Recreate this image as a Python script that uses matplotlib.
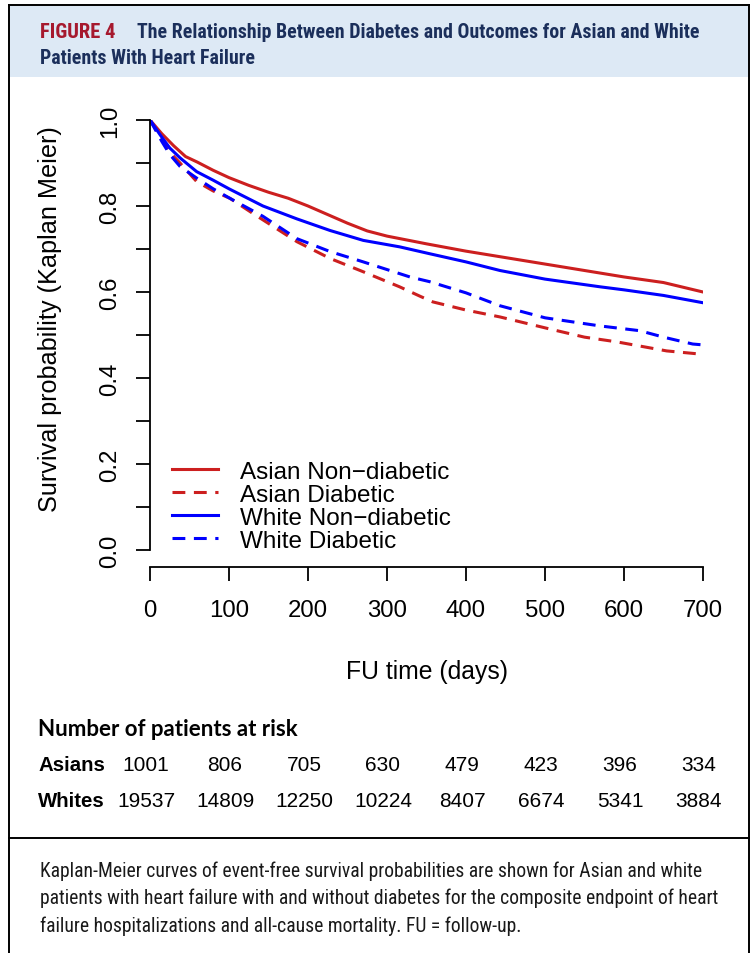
import matplotlib
matplotlib.use("Agg")
import matplotlib.pyplot as plt
from matplotlib import font_manager
from matplotlib.lines import Line2D
from matplotlib.patches import Rectangle
import matplotlib.transforms as mtransforms

# ---------------- data ----------------
days_asian_nd = [0, 15, 30, 45, 60, 80, 100, 125, 150, 175, 200, 225, 250, 275, 300, 350, 400, 450, 500, 550, 600, 650, 700]
surv_asian_nd = [1.0, 0.968, 0.940, 0.915, 0.902, 0.883, 0.866, 0.848, 0.832, 0.818, 0.800, 0.780, 0.760, 0.742, 0.730,
                 0.712, 0.695, 0.680, 0.665, 0.650, 0.635, 0.622, 0.600]

days_asian_d = [0, 15, 25, 38, 59, 80, 101, 130, 186, 228, 270, 316, 342, 358, 400, 443, 506, 550, 591, 654, 700]
surv_asian_d = [1.0, 0.955, 0.925, 0.900, 0.857, 0.835, 0.818, 0.783, 0.717, 0.678, 0.647, 0.612, 0.590, 0.577, 0.558,
                0.542, 0.514, 0.495, 0.484, 0.463, 0.455]

days_white_nd = [0, 13, 25, 38, 59, 80, 100, 143, 186, 228, 270, 316, 354, 400, 443, 500, 570, 600, 650, 700]
surv_white_nd = [1.0, 0.965, 0.935, 0.912, 0.880, 0.860, 0.840, 0.800, 0.770, 0.743, 0.720, 0.705, 0.689, 0.670, 0.650,
                 0.630, 0.612, 0.605, 0.592, 0.575]

days_white_d = [0, 15, 25, 38, 59, 80, 101, 143, 186, 228, 270, 329, 354, 400, 443, 500, 570, 620, 650, 687, 700]
surv_white_d = [1.0, 0.950, 0.920, 0.892, 0.865, 0.840, 0.818, 0.776, 0.724, 0.694, 0.670, 0.635, 0.624, 0.598, 0.568,
                0.540, 0.521, 0.510, 0.495, 0.479, 0.477]

series_labels = ["Asian Non\u2212diabetic", "Asian Diabetic", "White Non\u2212diabetic", "White Diabetic"]

x_ticks = [0, 100, 200, 300, 400, 500, 600, 700]
y_ticks = [0.0, 0.1, 0.2, 0.3, 0.4, 0.5, 0.6, 0.7, 0.8, 0.9, 1.0]
y_tick_labels = ["0.0", "", "0.2", "", "0.4", "", "0.6", "", "0.8", "", "1.0"]

risk_times = [0, 100, 200, 300, 400, 500, 600, 700]
risk_asians = [1001, 806, 705, 630, 479, 423, 396, 334]
risk_whites = [19537, 14809, 12250, 10224, 8407, 6674, 5341, 3884]

title_tag = "FIGURE 4"
title_line1 = "The Relationship Between Diabetes and Outcomes for Asian and White"
title_line2 = "Patients With Heart Failure"
caption_lines = [
    "Kaplan-Meier curves of event-free survival probabilities are shown for Asian and white",
    "patients with heart failure with and without diabetes for the composite endpoint of heart",
    "failure hospitalizations and all-cause mortality. FU = follow-up.",
]

# ---------------- fonts ----------------
available = {f.name for f in font_manager.fontManager.ttflist}
def pick(*names):
    for n in names:
        if n in available:
            return n
    return "DejaVu Sans"

ARIAL = pick("Liberation Sans", "Arimo", "DejaVu Sans")
NARROW = pick("Liberation Sans Narrow", "Roboto Condensed", "Open Sans Condensed", "DejaVu Sans")
CALIBRI = pick("Lato", "Open Sans", "DejaVu Sans")

RED = "#cc1f1f"
BLUE = "#0000ff"
W, H = 755, 954

fig = plt.figure(figsize=(W / 100, H / 100), dpi=100)

def fx(px):
    return px / W

def fy(py):
    return 1 - py / H

# header background & frame
fig.patches.append(Rectangle((fx(9), fy(78)), fx(749) - fx(9), fy(7) - fy(78),
                             transform=fig.transFigure, facecolor="#dde9f5", edgecolor="none", zorder=0))
for (x0, y0, x1, y1) in [(9, 6, 9, 954), (749, 6, 749, 954), (9, 6, 749, 6), (9, 839, 749, 839)]:
    fig.add_artist(Line2D([fx(x0), fx(x1)], [fy(y0), fy(y1)], transform=fig.transFigure,
                          color="black", lw=1.4))

# header text
fig.text(fx(40), fy(33), title_tag, color="#a6192e", fontsize=14.8, fontweight="bold",
         family=NARROW, va="center", ha="left")
fig.text(fx(137), fy(33), title_line1, color="#1b2f5b", fontsize=14.3, fontweight="bold",
         family=NARROW, va="center", ha="left")
fig.text(fx(40), fy(58), title_line2, color="#1b2f5b", fontsize=14.3, fontweight="bold",
         family=NARROW, va="center", ha="left")

# ---------------- axes ----------------
ax = fig.add_axes([fx(150), fy(551), fx(703) - fx(150), fy(121) - fy(551)])
ax.set_xlim(0, 700)
ax.set_ylim(0, 1)
ax.patch.set_alpha(0)

lw = 2.2
dash = (0, (4.2, 2.8))
ax.plot(days_asian_nd, surv_asian_nd, color=RED, lw=lw, label=series_labels[0])
ax.plot(days_asian_d, surv_asian_d, color=RED, lw=lw, linestyle=dash, dash_capstyle="butt", label=series_labels[1])
ax.plot(days_white_nd, surv_white_nd, color=BLUE, lw=lw, label=series_labels[2])
ax.plot(days_white_d, surv_white_d, color=BLUE, lw=lw, linestyle=dash, dash_capstyle="butt", label=series_labels[3])

for s in ["top", "right"]:
    ax.spines[s].set_visible(False)
ax.spines["left"].set_bounds(0, 1)
ax.spines["bottom"].set_bounds(0, 700)
ax.spines["bottom"].set_position(("outward", 12))
ax.spines["left"].set_linewidth(1.3)
ax.spines["bottom"].set_linewidth(1.3)

ax.set_xticks(x_ticks)
ax.set_xticklabels([str(v) for v in x_ticks], family=ARIAL, fontsize=17.3)
ax.set_yticks(y_ticks)
ax.set_yticklabels(y_tick_labels, family=ARIAL, fontsize=17.3, rotation=90, va="center")
ax.tick_params(axis="x", length=10, width=1.3, pad=13)
ax.tick_params(axis="y", length=10, width=1.3, pad=11)

fig.text(fx(50), fy(319), "Survival probability (Kaplan Meier)", family=ARIAL, fontsize=18.2,
         rotation=90, ha="center", va="center")
fig.text(fx(427), fy(672), "FU time (days)", family=ARIAL, fontsize=17.8, ha="center", va="center")

ax_h_px = 551 - 121
leg = ax.legend(loc="upper left",
                bbox_to_anchor=((172 - 150) / 553, (551 - 461.5) / ax_h_px),
                frameon=False, prop={"family": ARIAL, "size": 17.5}, handlelength=1.9,
                handletextpad=0.9, labelspacing=0.045, borderaxespad=0, borderpad=0)

# ---------------- risk table ----------------
fig.text(fx(38), fy(730), "Number of patients at risk", family=CALIBRI, fontweight="bold",
         fontsize=16, ha="left", va="center")
fig.text(fx(38), fy(766), "Asians", family=ARIAL, fontweight="bold", fontsize=14.7, ha="left", va="center")
fig.text(fx(38), fy(802), "Whites", family=ARIAL, fontweight="bold", fontsize=14.7, ha="left", va="center")
off = mtransforms.ScaledTranslation(-4 / 100, 0, fig.dpi_scale_trans)
trans = mtransforms.blended_transform_factory(ax.transData, fig.transFigure) + off
for t, a, w in zip(risk_times, risk_asians, risk_whites):
    fig.text(t, fy(766), str(a), transform=trans, family=ARIAL, fontsize=15, ha="center", va="center")
    fig.text(t, fy(802), str(w), transform=trans, family=ARIAL, fontsize=15, ha="center", va="center")

# ---------------- caption ----------------
for i, line in enumerate(caption_lines):
    fig.text(fx(40), fy(871 + 27.5 * i), line, family=NARROW, fontsize=14.1, color="#1a1a1a",
             ha="left", va="center")

fig.savefig("out.png", dpi=100)
